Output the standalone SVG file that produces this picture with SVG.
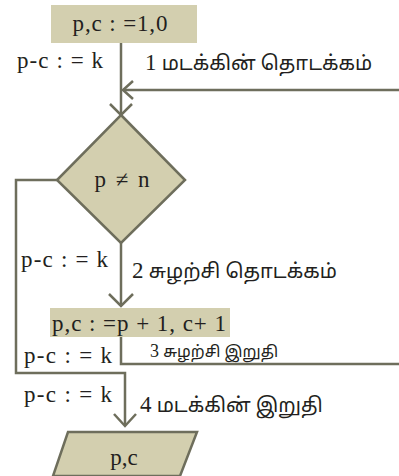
<svg xmlns="http://www.w3.org/2000/svg" width="399" height="476" viewBox="0 0 399 476">
<defs>
<style>
.shape{fill:#d3cfaf;stroke:#6e6e5c;stroke-width:2.5}
.box{fill:#d3cfaf;stroke:none}
.line{fill:none;stroke:#6e6e5c;stroke-width:2.5}
.ser{font-family:"Liberation Serif",serif;font-size:23px;fill:#231f20}
.tam{font-family:"Noto Sans Tamil","Noto Sans","Liberation Sans",sans-serif;font-size:20px;fill:#231f20}
</style>
</defs>
<g id="connectors">
<path class="line" d="M121,43 V114"/>
<path class="line" d="M399,90 H123"/>
<path d="M133,81 L123,90 L133,99 M110,104 L121,115 L132,104" class="line"/>
<path class="line" d="M121,243 V305"/>
<path class="line" d="M109,294 L121,306 L133,294"/>
<path class="line" d="M57,180 H16 V373 H125 V425"/>
<path class="line" d="M114,414 L125,426 L136,414"/>
<path class="line" d="M121,336 V364 H399"/>
</g>
<g id="start">
<rect class="box" x="51" y="5" width="146" height="38"/>
<text class="ser" x="120" y="31" text-anchor="middle" textLength="95">p,c : =1,0</text>
</g>
<g id="decision">
<polygon class="shape" points="121,115 185,180 121,243 57,180"/>
<text class="ser" x="122" y="187" text-anchor="middle" textLength="55">p ≠ n</text>
</g>
<g id="process">
<rect class="box" x="50" y="308" width="180" height="29"/>
<text class="ser" x="52" y="331" textLength="174">p,c : =p + 1, c+ 1</text>
</g>
<g id="output">
<polygon class="shape" points="68,432 197,432 180,476 53,476"/>
<text class="ser" x="124" y="465" text-anchor="middle">p,c</text>
</g>
<g id="labels">
<text class="ser" x="17" y="68" textLength="86">p-c : = k</text>
<text class="ser" x="21" y="267" textLength="87">p-c : = k</text>
<text class="ser" x="24" y="363" textLength="88">p-c : = k</text>
<text class="ser" x="24" y="402" textLength="88">p-c : = k</text>
<text class="tam" x="145" y="70"><tspan class="ser">1</tspan> மடக்கின் தொடக்கம்</text>
<text class="tam" x="132" y="278"><tspan class="ser">2</tspan> சுழற்சி தொடக்கம்</text>
<text class="tam" x="150" y="357" style="font-size:16px"><tspan class="ser" style="font-size:18px">3</tspan> சுழற்சி இறுதி</text>
<text class="tam" x="140" y="412"><tspan class="ser">4</tspan> மடக்கின் இறுதி</text>
</g>
</svg>
